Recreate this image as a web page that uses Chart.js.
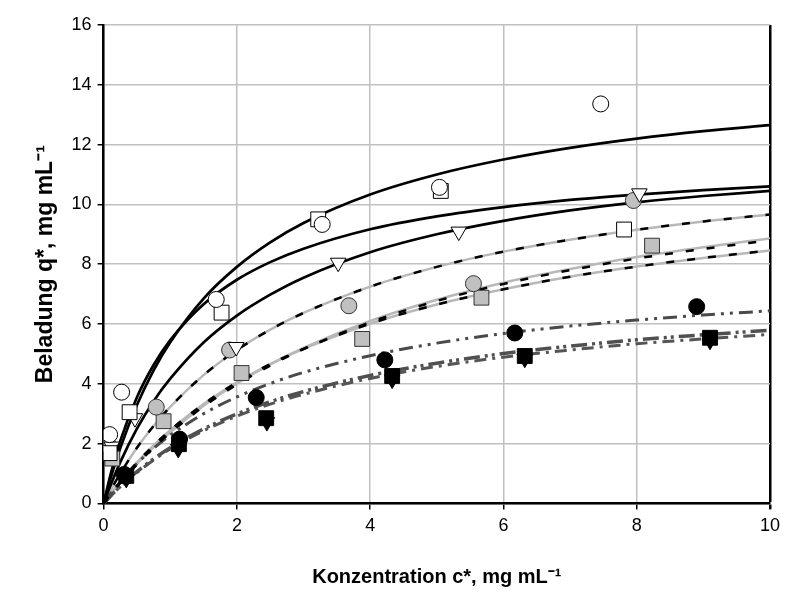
<!DOCTYPE html>
<html>
<head>
<meta charset="utf-8">
<script src="https://cdn.jsdelivr.net/npm/chart.js@4"></script>
<style>
  html, body { margin: 0; padding: 0; background: #fff; }
  #wrap { width: 786px; height: 593px; }
</style>
</head>
<body>
<div id="wrap"><canvas id="myChart"></canvas></div>
<script>
// measured points (c*, q*)
var openCircles  = [[0.09, 2.3], [0.27, 3.72], [1.69, 6.82], [3.28, 9.33], [5.04, 10.57], [7.46, 13.36]];
var openSquares  = [[0.09, 1.68], [0.39, 3.05], [1.77, 6.38], [3.22, 9.5], [5.06, 10.45], [7.81, 9.16]];
var openTriangles = [[0.12, 1.9], [0.47, 2.85], [1.99, 5.23], [3.52, 8.05], [5.33, 9.09], [8.04, 10.37]];
var grayCircles  = [[0.07, 1.95], [0.79, 3.22], [1.89, 5.13], [3.68, 6.61], [5.55, 7.35], [7.95, 10.13]];
var graySquares  = [[0.13, 1.5], [0.9, 2.75], [2.07, 4.36], [3.88, 5.5], [5.67, 6.88], [8.23, 8.62]];
var blackCircles = [[0.31, 0.97], [1.14, 2.15], [2.29, 3.54], [4.22, 4.8], [6.17, 5.7], [8.9, 6.58]];
var blackSquares = [[0.34, 0.92], [1.13, 1.98], [2.44, 2.85], [4.33, 4.26], [6.32, 4.93], [9.1, 5.54]];
var blackTriangles = [[0.34, 0.82], [1.12, 1.82], [2.45, 2.72], [4.33, 4.14], [6.32, 4.84], [9.1, 5.44]];

// fitted curves
var curveX = [0, 0.1, 0.25, 0.5, 0.75, 1, 1.5, 2, 2.5, 3, 4, 5, 6, 7, 8, 9, 10];
var solidA = [0, 0.80, 1.85, 3.29, 4.45, 5.39, 6.85, 7.91, 8.73, 9.38, 10.33, 11.0, 11.5, 11.89, 12.2, 12.45, 12.65];
var solidB = [0, 0.93, 2.09, 3.55, 4.63, 5.46, 6.66, 7.48, 8.07, 8.52, 9.17, 9.6, 9.91, 10.15, 10.33, 10.48, 10.6];
var solidC = [0, 0.58, 1.38, 2.5, 3.42, 4.17, 5.38, 6.28, 6.98, 7.55, 8.4, 9.0, 9.45, 9.8, 10.07, 10.28, 10.45];
var grayG1 = [0, 0.42, 1.0, 1.86, 2.59, 3.23, 4.29, 5.13, 5.81, 6.37, 7.25, 7.91, 8.42, 8.82, 9.15, 9.43, 9.66];
var grayG2 = [0, 0.29, 0.69, 1.32, 1.88, 2.38, 3.27, 4.01, 4.65, 5.2, 6.1, 6.81, 7.38, 7.84, 8.24, 8.57, 8.86];
var grayG3 = [0, 0.3, 0.73, 1.37, 1.94, 2.45, 3.32, 4.05, 4.66, 5.17, 6.01, 6.65, 7.16, 7.58, 7.92, 8.21, 8.46];
var dashD2 = [0, 0.29, 0.68, 1.3, 1.86, 2.36, 3.24, 3.98, 4.61, 5.16, 6.06, 6.77, 7.34, 7.8, 8.19, 8.51, 8.8];
var dashDot1 = [0, 0.31, 0.72, 1.33, 1.84, 2.28, 3.0, 3.56, 4.01, 4.38, 4.94, 5.36, 5.68, 5.93, 6.13, 6.3, 6.44];
var dashDot2 = [0, 0.24, 0.57, 1.06, 1.49, 1.86, 2.49, 2.99, 3.4, 3.74, 4.28, 4.69, 5.01, 5.26, 5.47, 5.64, 5.79];
var dashDot3 = [0, 0.23, 0.56, 1.03, 1.45, 1.82, 2.43, 2.92, 3.32, 3.65, 4.18, 4.58, 4.89, 5.13, 5.34, 5.5, 5.65];

var xTicks = [0, 2, 4, 6, 8, 10];
var yTicks = [0, 2, 4, 6, 8, 10, 12, 14, 16];

function pts(list) {
    return list.map(function (p) { return { x: p[0], y: p[1] }; });
}
function curve(ys) {
    return curveX.map(function (x, i) { return { x: x, y: ys[i] }; });
}

function markers(list, style, fill, edge, r, rot) {
    return {
        data: pts(list),
        showLine: false,
        pointStyle: style,
        pointRadius: r,
        pointHoverRadius: r,
        pointRotation: rot || 0,
        pointBackgroundColor: fill,
        pointBorderColor: edge,
        pointBorderWidth: 1,
        order: 0
    };
}
// lower order is painted on top
function line(ys, color, width, dash, order) {
    return {
        data: curve(ys),
        showLine: true,
        borderColor: color,
        borderWidth: width,
        borderDash: dash || [],
        pointRadius: 0,
        cubicInterpolationMode: 'monotone',
        fill: false,
        order: order
    };
}

var ctx = document.getElementById('myChart').getContext('2d');
var chart = new Chart(ctx, {
    type: 'scatter',
    data: {
        datasets: [
            markers(openCircles, 'circle', '#ffffff', '#000000', 8),
            markers(openSquares, 'rect', '#ffffff', '#000000', 10.5),
            markers(openTriangles, 'triangle', '#ffffff', '#000000', 9, 180),
            markers(grayCircles, 'circle', '#c0c0c0', '#333333', 8),
            markers(graySquares, 'rect', '#c0c0c0', '#333333', 10.5),
            markers(blackCircles, 'circle', '#000000', '#000000', 8),
            markers(blackSquares, 'rect', '#000000', '#000000', 10.5),
            markers(blackTriangles, 'triangle', '#000000', '#000000', 9, 180),

            line(solidA, '#000000', 2.7, [], 1),
            line(solidB, '#000000', 2.7, [], 1),
            line(solidC, '#000000', 2.7, [], 1),
            line(grayG1, '#000000', 2.5, [8, 13], 1),
            line(dashD2, '#000000', 2.5, [8, 13], 1),
            line(grayG3, '#000000', 2.5, [8, 13], 1),
            line(grayG1, '#b8b8b8', 2.5, [], 2),
            line(grayG2, '#b8b8b8', 2.5, [], 2),
            line(grayG3, '#b8b8b8', 2.5, [], 2),
            line(dashDot1, '#4a4a4a', 3, [14, 6, 3, 6, 3, 6], 1),
            line(dashDot2, '#505050', 3.5, [16, 5, 3, 4, 3, 5], 1),
            line(dashDot3, '#555555', 3, [12, 6, 3, 6], 1)
        ]
    },
    options: {
        responsive: true,
        maintainAspectRatio: false,
        animation: false,
        layout: { padding: { top: 25, right: 8, left: 28, bottom: 0 } },
        plugins: {
            legend: { display: false },
            tooltip: { enabled: false }
        },
        scales: {
            x: {
                type: 'linear',
                min: 0,
                max: 10,
                afterBuildTicks: function (axis) {
                    axis.ticks = xTicks.map(function (v) { return { value: v }; });
                },
                grid: {
                    color: function (c) { return c.tick && c.tick.value === 10 ? '#000000' : '#c0c0c0'; },
                    lineWidth: function (c) { return c.tick && c.tick.value === 10 ? 2.5 : 1.5; },
                    tickColor: '#000000',
                    tickLength: 6
                },
                border: { color: '#000000', width: 2.5 },
                ticks: {
                    color: '#000000',
                    font: { family: 'Liberation Sans', size: 18 },
                    padding: 6
                },
                title: {
                    display: true,
                    text: 'Konzentration c*, mg mL⁻¹',
                    color: '#000000',
                    font: { family: 'Liberation Sans', size: 20, weight: 'bold' },
                    padding: { top: 22 }
                }
            },
            y: {
                type: 'linear',
                min: 0,
                max: 16,
                afterBuildTicks: function (axis) {
                    axis.ticks = yTicks.map(function (v) { return { value: v }; });
                },
                grid: {
                    color: '#c0c0c0',
                    lineWidth: 1.5,
                    tickColor: '#000000',
                    tickLength: 6
                },
                border: { color: '#000000', width: 2.5 },
                ticks: {
                    color: '#000000',
                    font: { family: 'Liberation Sans', size: 18 },
                    padding: 6
                },
                title: {
                    display: true,
                    text: 'Beladung q*, mg mL⁻¹',
                    color: '#000000',
                    font: { family: 'Liberation Sans', size: 23, weight: 'bold' },
                    padding: { bottom: 6 }
                }
            }
        }
    }
});
</script>
</body>
</html>
